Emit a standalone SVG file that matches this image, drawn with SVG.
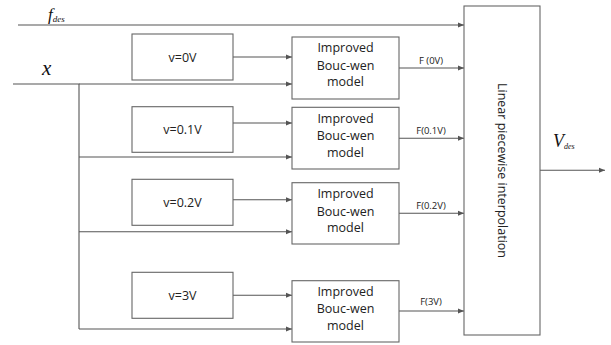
<svg xmlns="http://www.w3.org/2000/svg" width="611" height="345" viewBox="0 0 611 345">
<defs>
<marker id="ah" markerWidth="7" markerHeight="6" refX="6" refY="3" orient="auto" markerUnits="userSpaceOnUse">
<path d="M0,0.5 L6,3 L0,5.5 Z" fill="#555"/>
</marker>
<style>
.box{fill:#fff;stroke:#666;stroke-width:1.1}
.ln{fill:none;stroke:#555;stroke-width:1.1}
.ar{fill:none;stroke:#555;stroke-width:1.1;marker-end:url(#ah)}
.t{font-family:"Open Sans","Liberation Sans",sans-serif;font-size:12.5px;fill:#222;text-anchor:middle}
.s{font-family:"Open Sans","Liberation Sans",sans-serif;font-size:9.5px;fill:#222;text-anchor:middle}
.m{font-family:"Liberation Serif",serif;font-style:italic;fill:#111}
</style>
</defs>
<g id="connectors">
<path class="ar" d="M18,25 H464"/>
<path class="ln" d="M13,84 H79 V329"/>
<path class="ar" d="M79,84 H292"/>
<path class="ar" d="M79,157 H292"/>
<path class="ar" d="M79,231.7 H292"/>
<path class="ar" d="M79,329 H292"/>
<path class="ar" d="M233,57 H292"/>
<path class="ar" d="M233,123 H292"/>
<path class="ar" d="M233,199.7 H292"/>
<path class="ar" d="M233,295.3 H292"/>
<path class="ar" d="M399,68 H464"/>
<path class="ar" d="M399,138.3 H464"/>
<path class="ar" d="M399,213.3 H464"/>
<path class="ar" d="M399,311 H464"/>
<path class="ar" d="M540,170.3 H605"/>
<text class="s" x="431" y="64">F (0V)</text>
<text class="s" x="431" y="134">F(0.1V)</text>
<text class="s" x="431" y="209">F(0.2V)</text>
<text class="s" x="431" y="305">F(3V)</text>
</g>
<g id="labels">
<text class="m" x="48" y="20" font-size="17">f<tspan font-size="9" dy="2">des</tspan></text>
<text class="m" x="42" y="75" font-size="21">x</text>
<text class="m" x="553" y="147" font-size="18">V<tspan font-size="8" dy="2">des</tspan></text>
</g>
<g id="v0"><rect class="box" x="132" y="34" width="101" height="46"/><text class="t" x="182.5" y="61.5">v=0V</text></g>
<g id="v01"><rect class="box" x="132" y="106.7" width="101" height="45.6"/><text class="t" x="182.5" y="134">v=0.1V</text></g>
<g id="v02"><rect class="box" x="132" y="179.3" width="101" height="46"/><text class="t" x="182.5" y="206.5">v=0.2V</text></g>
<g id="v3"><rect class="box" x="132" y="272.3" width="101" height="46"/><text class="t" x="182.5" y="299.5">v=3V</text></g>
<g id="bw0"><rect class="box" x="292" y="37" width="107" height="62"/><text class="t" x="345.5" y="52">Improved</text><text class="t" x="345.5" y="69.5">Bouc-wen</text><text class="t" x="345.5" y="86">model</text></g>
<g id="bw01"><rect class="box" x="292" y="107.3" width="107" height="61.7"/><text class="t" x="345.5" y="122.5">Improved</text><text class="t" x="345.5" y="140">Bouc-wen</text><text class="t" x="345.5" y="156.5">model</text></g>
<g id="bw02"><rect class="box" x="292" y="182.7" width="107" height="61.3"/><text class="t" x="345.5" y="198">Improved</text><text class="t" x="345.5" y="215.5">Bouc-wen</text><text class="t" x="345.5" y="232">model</text></g>
<g id="bw3"><rect class="box" x="292" y="280.7" width="107" height="61.3"/><text class="t" x="345.5" y="295.5">Improved</text><text class="t" x="345.5" y="313">Bouc-wen</text><text class="t" x="345.5" y="329.5">model</text></g>
<g id="interp"><rect class="box" x="464" y="6" width="76" height="329"/><text class="t" transform="translate(498,170.5) rotate(90)" x="0" y="0">Linear piecewise interpolation</text></g>
</svg>
